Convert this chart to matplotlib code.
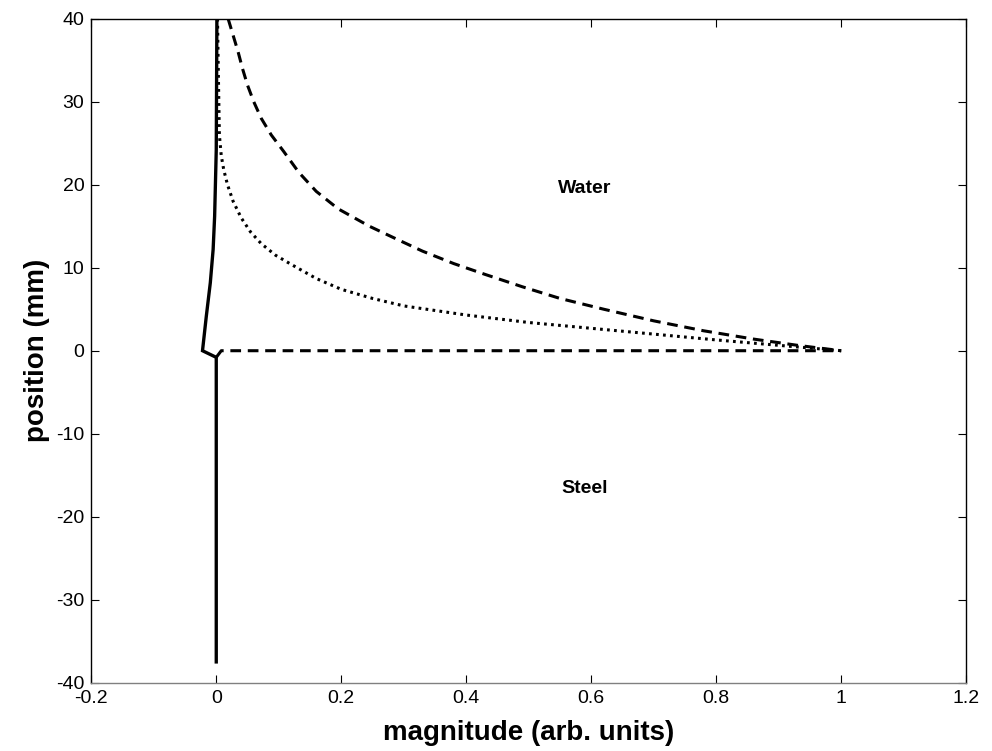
import matplotlib
matplotlib.use("Agg")
import matplotlib.pyplot as plt

plt.rcParams['font.family'] = ['Liberation Sans', 'DejaVu Sans']
plt.rcParams['axes.unicode_minus'] = False

# Solid curve: position vs magnitude
solid_x = [0.001, 0.0005, 0.0, -0.0026, -0.005, -0.0095, -0.016, -0.022, 0.0, 0.0]
solid_y = [40.0, 32.0, 24.2, 16.2, 12.2, 8.2, 4.1, 0.0, -0.8, -37.5]

# Dashed curve (water side) plus the interface segment
dashed_x = [0.019, 0.027, 0.035, 0.042, 0.05, 0.06, 0.072, 0.088, 0.108, 0.132,
            0.16, 0.195, 0.245, 0.29, 0.33, 0.38, 0.43, 0.49, 0.55, 0.62, 0.7,
            0.78, 0.86, 0.93, 1.0]
dashed_y = [40.0, 38.0, 36.0, 34.0, 32.0, 30.0, 28.0, 26.0, 24.0, 21.5,
            19.2, 17.1, 15.0, 13.4, 12.0, 10.5, 9.2, 7.7, 6.3, 5.0, 3.6,
            2.4, 1.4, 0.65, 0.0]
interface_x = [0.0, 0.008, 1.0]
interface_y = [-0.8, 0.0, 0.0]

# Dotted curve
dotted_x = [0.002, 0.003, 0.004, 0.005, 0.008, 0.012, 0.018, 0.027, 0.04, 0.055,
            0.072, 0.095, 0.12, 0.16, 0.2, 0.25, 0.3, 0.4, 0.5, 0.6, 0.7, 0.8,
            0.9, 1.0]
dotted_y = [40.0, 35.0, 30.4, 26.0, 23.5, 21.8, 20.0, 18.0, 16.0, 14.3,
            12.9, 11.5, 10.4, 8.7, 7.4, 6.3, 5.4, 4.3, 3.4, 2.7, 2.0, 1.3,
            0.65, 0.0]

x_ticks = [-0.2, 0, 0.2, 0.4, 0.6, 0.8, 1, 1.2]
x_tick_labels = ['-0.2', '0', '0.2', '0.4', '0.6', '0.8', '1', '1.2']
y_ticks = [-40, -30, -20, -10, 0, 10, 20, 30, 40]

fig = plt.figure(figsize=(9.92, 7.51), dpi=100)
ax = fig.add_axes([0.092, 0.091, 0.882, 0.884])

ax.plot(dashed_x, dashed_y, color='black', lw=2.2, ls=(0, (3.5, 2.2)))
ax.plot(interface_x, interface_y, color='black', lw=2.2, ls=(0, (3.5, 2.2)))
ax.plot(dotted_x, dotted_y, color='black', lw=2.2, ls=(0, (0.9, 1.4)))
ax.plot(solid_x, solid_y, color='black', lw=2.4, solid_joinstyle='miter')

ax.text(0.59, 19.6, 'Water', ha='center', va='center', fontsize=14, fontweight='bold')
ax.text(0.59, -16.6, 'Steel', ha='center', va='center', fontsize=14, fontweight='bold')

ax.set_xlim(-0.2, 1.2)
ax.set_ylim(-40, 40)
ax.set_xticks(x_ticks)
ax.set_xticklabels(x_tick_labels)
ax.set_yticks(y_ticks)
ax.tick_params(direction='in', top=True, right=True, length=6, width=0.8,
               labelsize=14, pad=5)
for s in ax.spines.values():
    s.set_linewidth(1.0)
ax.spines['bottom'].set_color('#808080')

ax.set_xlabel('magnitude (arb. units)', fontsize=20, fontweight='bold', labelpad=10)
ax.set_ylabel('position (mm)', fontsize=20, fontweight='bold', labelpad=4)

fig.savefig('out.png', dpi=100)
